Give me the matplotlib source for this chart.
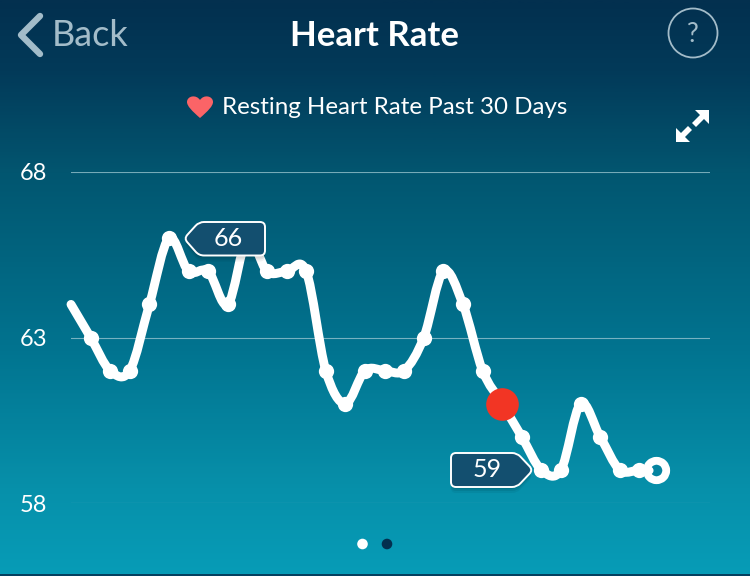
import numpy as np
import matplotlib
matplotlib.use('Agg')
import matplotlib.pyplot as plt
from matplotlib.colors import LinearSegmentedColormap
from matplotlib.path import Path
from matplotlib.patches import PathPatch, Circle, Polygon, Rectangle

W, H = 750, 576

# resting heart rate, one value per day (last point sits a bit closer)
days = [0, 1, 2, 3, 4, 5, 6, 7, 8, 9, 10, 11, 12, 13, 14, 15, 16, 17, 18, 19,
        20, 21, 22, 23, 24, 25, 26, 27, 28, 29, 29.85]
rate = [64, 63, 62, 62, 64, 66, 65, 65, 64, 66, 65, 65, 65, 62, 61, 62, 62, 62,
        63, 65, 64, 62, 61, 60, 59, 59, 61, 60, 59, 59, 59]
y_ticks = [58, 63, 68]
high_label = '66'
low_label = '59'
title = 'Heart Rate'
subtitle = 'Resting Heart Rate Past 30 Days'

plt.rcParams['font.family'] = ['Lato', 'DejaVu Sans']


def rounded(pts, r):
    # closed polygon with rounded corners, for the value tags
    verts, codes = [], []
    n = len(pts)
    for i in range(n):
        p = np.array(pts[i], dtype=float)
        a = np.array(pts[i - 1], dtype=float)
        b = np.array(pts[(i + 1) % n], dtype=float)
        start = p + (a - p) / np.linalg.norm(a - p) * r
        end = p + (b - p) / np.linalg.norm(b - p) * r
        verts.append(tuple(start))
        codes.append(Path.MOVETO if i == 0 else Path.LINETO)
        verts += [tuple(p), tuple(end)]
        codes += [Path.CURVE3, Path.CURVE3]
    verts.append(verts[0])
    codes.append(Path.CLOSEPOLY)
    return Path(verts, codes)


fig = plt.figure(figsize=(7.5, 5.76), dpi=100)

# gradient background, whole figure in pixels
bg = fig.add_axes([0, 0, 1, 1], zorder=0)
bg.set_xlim(0, W)
bg.set_ylim(H, 0)
bg.axis('off')
cmap = LinearSegmentedColormap.from_list('bg', [
    (0.0, '#03304f'), (0.12, '#023a59'), (0.3, '#025670'),
    (0.6, '#01738f'), (0.85, '#0790aa'), (1.0, '#069cb7')])
grad = np.linspace(0, 1, 300).reshape(-1, 1)
bg.imshow(grad, cmap=cmap, extent=[0, W, H, 0], aspect='auto')

# chart axes, lined up on the gridlines
ax = fig.add_axes([71 / W, (H - 503) / H, 639 / W, 331 / H], zorder=1)
ax.patch.set_alpha(0)
ax.set_xlim(0, 639 / 19.6)
ax.set_ylim(58, 68)
for s in ax.spines.values():
    s.set_visible(False)
ax.set_xticks([])
ax.set_yticks(y_ticks)
ax.tick_params(axis='y', length=0, pad=17, labelsize=17, labelcolor='white')
ax.grid(axis='y', color='#a9cfd8', lw=0.8, alpha=0.7)
ax.set_axisbelow(True)

# smooth line through the points (catmull-rom as bezier segments)
x = np.array(days, dtype=float)
y = np.array(rate, dtype=float)
verts = [(x[0], y[0])]
codes = [Path.MOVETO]
for i in range(len(x) - 1):
    p0 = (x[max(i - 1, 0)], y[max(i - 1, 0)])
    p1 = (x[i], y[i])
    p2 = (x[i + 1], y[i + 1])
    p3 = (x[min(i + 2, len(x) - 1)], y[min(i + 2, len(x) - 1)])
    verts.append((p1[0] + (p2[0] - p0[0]) / 6, p1[1] + (p2[1] - p0[1]) / 6))
    verts.append((p2[0] - (p3[0] - p1[0]) / 6, p2[1] - (p3[1] - p1[1]) / 6))
    verts.append(p2)
    codes += [Path.CURVE4] * 3
ax.add_patch(PathPatch(Path(verts, codes), fc='none', ec='white', lw=6.4,
                       capstyle='round', joinstyle='round', clip_on=False, zorder=3))
ax.plot(days[1:-1], rate[1:-1], 'o', color='white', ms=11, mew=0, clip_on=False, zorder=3)

# last point: hole in the ring, with the line end just poking into it
ax.plot(days[-1], rate[-1], 'o', color='#0584a0', ms=14, mew=0, clip_on=False, zorder=3.5)
ax.plot(days[-1] - 0.35, rate[-1], 'o', color='white', ms=5.8, mew=0, clip_on=False, zorder=3.6)
ax.plot(days[-1], rate[-1], 'o', mfc='none', mec='white', mew=5.6, ms=14, clip_on=False, zorder=4)

ax.plot(days[22], rate[22], 'o', color='#f23524', ms=23.5, mew=0, clip_on=False, zorder=5)

# everything of the app around the chart, in pixels
ui = fig.add_axes([0, 0, 1, 1], zorder=2)
ui.set_xlim(0, W)
ui.set_ylim(H, 0)
ui.axis('off')
ui.patch.set_alpha(0)

grey = '#a3bcc9'
ui.plot([40, 21, 40], [16, 35, 54], color=grey, lw=4.6, solid_capstyle='round', solid_joinstyle='round')
ui.text(52, 36, 'Back', color=grey, fontsize=26, va='center', ha='left')
ui.text(375, 36, title, color='white', fontsize=25, va='center', ha='center', fontweight='bold')
ui.add_patch(Circle((693, 33), 24.5, fc='none', ec=grey, lw=1.3))
ui.text(693, 34, '?', color=grey, fontsize=19, va='center', ha='center')

# heart
heart = Path([(200, 118), (192, 111), (187, 106), (187, 102), (187, 96), (196, 94), (200, 100),
              (204, 94), (213, 96), (213, 102), (213, 106), (208, 111), (200, 118)],
             [Path.MOVETO] + [Path.CURVE4] * 12)
ui.add_patch(PathPatch(heart, fc='#fb6467', ec='none'))
ui.text(222, 107, subtitle, color='white', fontsize=17.4, va='center', ha='left')

# expand arrows
ui.add_patch(Polygon([(709, 110), (709, 124), (704, 119), (696, 127), (692, 123), (700, 115), (695, 110)],
                     fc='white', ec='none'))
ui.add_patch(Polygon([(676, 142), (676, 128), (681, 133), (688, 126), (692, 130), (685, 137), (690, 142)],
                     fc='white', ec='none'))

# value tags
tag_hi = [(184, 238.5), (199, 222), (265, 222), (265, 255.5), (199, 255.5)]
tag_lo = [(451, 453), (517, 453), (533, 470), (517, 487), (451, 487)]
for pts in (tag_hi, tag_lo):
    for off, al in ((6, 0.05), (4, 0.07), (2, 0.07)):
        shadow = [(px, py + off) for px, py in pts]
        ui.add_patch(PathPatch(rounded(shadow, 5), fc='black', alpha=al, ec='none', zorder=2))
    ui.add_patch(PathPatch(rounded(pts, 5), fc='#134f6f', ec='white', lw=1.4, zorder=3))
ui.text(228, 238.5, high_label, color='white', fontsize=18, ha='center', va='center', zorder=4)
ui.text(487, 469.5, low_label, color='white', fontsize=18, ha='center', va='center', zorder=4)

# page dots
ui.add_patch(Circle((362.5, 544), 5.3, fc='white', ec='none'))
ui.add_patch(Circle((387, 544), 5.3, fc='#03304f', ec='none'))

# dark strip along the bottom edge
ui.add_patch(Rectangle((0, 574), W, 2, fc='#04405f', ec='none'))

fig.savefig('out.png', dpi=100)
